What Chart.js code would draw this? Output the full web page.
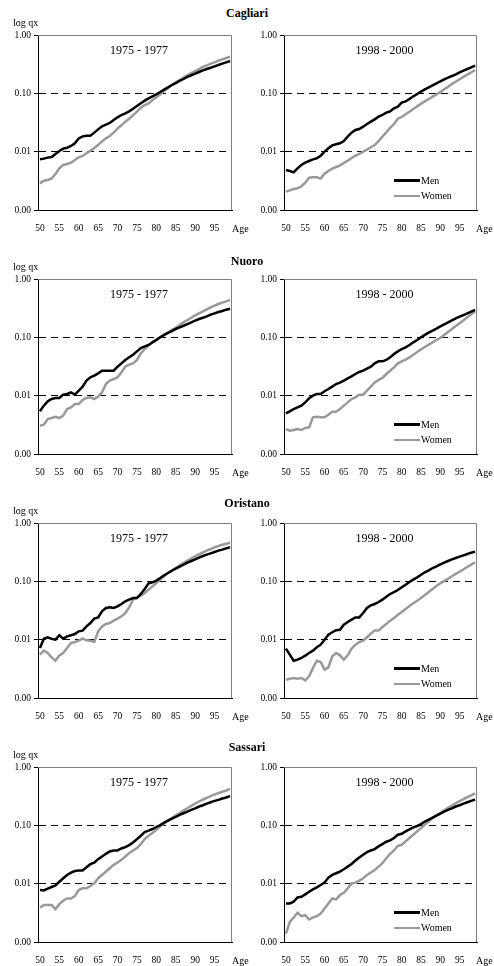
<!DOCTYPE html>
<html><head><meta charset="utf-8">
<script src="https://cdn.jsdelivr.net/npm/chart.js@4.4.1/dist/chart.umd.min.js"></script>
<style>
html,body{margin:0;padding:0;background:#fff;}
body{width:494px;height:966px;position:relative;overflow:hidden;font-family:"Liberation Serif","Times New Roman",serif;color:#000;}
.t{position:absolute;white-space:nowrap;line-height:1;}
canvas{position:absolute;}
.sw{position:absolute;height:2.5px;width:26px;}
</style></head><body>
<script>
// ---------- data ----------
const ages = [50,51,52,53,54,55,56,57,58,59,60,61,62,63,64,65,66,67,68,69,70,71,72,73,74,75,76,77,78,79,80,81,82,83,84,85,86,87,88,89,90,91,92,93,94,95,96,97,98,99];
const xTicks = [50,55,60,65,70,75,80,85,90,95];
const yTicks = [0.001,0.01,0.1,1];
const yTickLabels = ["0.00","0.01","0.10","1.00"];
const regions = ["Cagliari","Nuoro","Oristano","Sassari"];
const periods = ["1975 - 1977","1998 - 2000"];
const seriesNames = ["Men","Women"];
const yTitle = "log qx";
const xTitle = "Age";

const cagliari7577Men = [0.0074,0.0076,0.0079,0.0081,0.0091,0.0103,0.0113,0.0117,0.0125,0.0139,0.0169,0.0183,0.0188,0.0188,0.0212,0.0241,0.0272,0.0290,0.0310,0.0349,0.0388,0.0425,0.0454,0.0491,0.0546,0.0607,0.0674,0.0749,0.0821,0.0889,0.0961,0.1054,0.1156,0.1268,0.139,0.150,0.163,0.176,0.191,0.204,0.217,0.232,0.248,0.261,0.275,0.290,0.306,0.323,0.340,0.358];
const cagliari7577Women = [0.00286,0.00318,0.00327,0.00349,0.00414,0.00518,0.00591,0.00615,0.00648,0.00720,0.00800,0.00843,0.00936,0.0104,0.0116,0.0130,0.0150,0.0169,0.0186,0.0212,0.0248,0.0283,0.0327,0.0368,0.0420,0.0485,0.0568,0.0631,0.0674,0.0769,0.0854,0.0961,0.1096,0.1234,0.139,0.154,0.169,0.186,0.204,0.223,0.241,0.261,0.283,0.302,0.323,0.340,0.363,0.383,0.403,0.425];
const cagliari9800Men = [0.00485,0.00466,0.00442,0.00518,0.00591,0.00648,0.00692,0.00739,0.00769,0.00853,0.0100,0.0114,0.0128,0.0134,0.0139,0.0152,0.0181,0.0212,0.0235,0.0245,0.0268,0.0298,0.0327,0.0358,0.0398,0.0425,0.0466,0.0491,0.0553,0.0591,0.0692,0.0729,0.0800,0.0889,0.0975,0.107,0.117,0.127,0.137,0.148,0.161,0.174,0.186,0.198,0.212,0.229,0.245,0.261,0.279,0.298];
const cagliari9800Women = [0.00206,0.00217,0.00229,0.00235,0.00255,0.00294,0.00358,0.00363,0.00363,0.00345,0.00420,0.00466,0.00511,0.00546,0.00583,0.00639,0.00701,0.00779,0.00853,0.00912,0.0100,0.0108,0.0119,0.0130,0.0152,0.0181,0.0214,0.0255,0.0298,0.0368,0.0393,0.0437,0.0485,0.0538,0.0598,0.0665,0.0729,0.0800,0.0877,0.0961,0.105,0.117,0.130,0.145,0.158,0.174,0.191,0.209,0.229,0.251];
const nuoro7577Men = [0.00539,0.00674,0.00800,0.00877,0.00912,0.00912,0.0104,0.0107,0.0114,0.0104,0.0122,0.0143,0.0181,0.0206,0.0220,0.0241,0.0268,0.0268,0.0268,0.0268,0.0314,0.0358,0.0409,0.0454,0.0504,0.0575,0.0656,0.0701,0.0739,0.0821,0.0900,0.100,0.110,0.119,0.128,0.139,0.148,0.158,0.169,0.181,0.193,0.206,0.217,0.229,0.245,0.258,0.272,0.283,0.298,0.310];
const nuoro7577Women = [0.00306,0.00318,0.00398,0.00414,0.00436,0.00414,0.00454,0.00591,0.00631,0.00720,0.00720,0.00843,0.00912,0.00936,0.00877,0.00962,0.0114,0.0158,0.0181,0.0193,0.0206,0.0251,0.0314,0.0340,0.0358,0.0409,0.0532,0.0631,0.0720,0.0821,0.0912,0.100,0.110,0.120,0.134,0.146,0.163,0.181,0.198,0.217,0.238,0.258,0.279,0.302,0.327,0.349,0.373,0.393,0.414,0.436];
const nuoro9800Men = [0.00498,0.00539,0.00591,0.00631,0.00674,0.00769,0.00900,0.0100,0.0107,0.0107,0.0119,0.0130,0.0143,0.0158,0.0167,0.0181,0.0198,0.0214,0.0235,0.0255,0.0268,0.0290,0.0314,0.0358,0.0388,0.0388,0.0409,0.0454,0.0518,0.0575,0.0631,0.0674,0.0739,0.0821,0.0900,0.100,0.110,0.120,0.130,0.141,0.154,0.167,0.181,0.196,0.212,0.226,0.241,0.258,0.275,0.294];
const nuoro9800Women = [0.00268,0.00251,0.00258,0.00268,0.00258,0.00279,0.00286,0.00425,0.00436,0.00425,0.00425,0.00472,0.00532,0.00532,0.00591,0.00674,0.00769,0.00877,0.00936,0.0104,0.0104,0.0122,0.0143,0.0169,0.0186,0.0201,0.0235,0.0268,0.0306,0.0358,0.0388,0.0414,0.0454,0.0504,0.0561,0.0622,0.0682,0.0749,0.0821,0.0900,0.0975,0.110,0.123,0.139,0.156,0.174,0.196,0.220,0.248,0.275];
const oristano7577Men = [0.00720,0.0104,0.0110,0.0103,0.0100,0.0119,0.0104,0.0114,0.0119,0.0125,0.0139,0.0143,0.0169,0.0193,0.0229,0.0241,0.0306,0.0349,0.0358,0.0349,0.0373,0.0409,0.0454,0.0485,0.0518,0.0518,0.0607,0.0739,0.0924,0.0961,0.103,0.114,0.127,0.139,0.152,0.165,0.178,0.193,0.209,0.223,0.238,0.255,0.272,0.287,0.302,0.318,0.336,0.349,0.368,0.383];
const oristano7577Women = [0.00553,0.00648,0.00591,0.00498,0.00436,0.00539,0.00591,0.00720,0.00877,0.00912,0.00962,0.0104,0.00975,0.00962,0.00912,0.0139,0.0169,0.0186,0.0193,0.0212,0.0229,0.0251,0.0286,0.0358,0.0485,0.0532,0.0568,0.0631,0.0720,0.0821,0.0936,0.107,0.122,0.139,0.154,0.169,0.188,0.206,0.226,0.248,0.268,0.290,0.314,0.336,0.358,0.383,0.403,0.425,0.442,0.460];
const oristano9800Men = [0.00701,0.00553,0.00436,0.00454,0.00485,0.00532,0.00591,0.00648,0.00739,0.00821,0.0100,0.0122,0.0134,0.0145,0.0148,0.0181,0.0201,0.0220,0.0241,0.0241,0.0286,0.0349,0.0388,0.0409,0.0442,0.0485,0.0546,0.0607,0.0656,0.0710,0.0789,0.0877,0.0975,0.107,0.117,0.130,0.143,0.154,0.169,0.181,0.196,0.209,0.223,0.238,0.251,0.265,0.279,0.294,0.310,0.323];
const oristano9800Women = [0.00206,0.00214,0.00220,0.00214,0.00220,0.00201,0.00235,0.00327,0.00436,0.00414,0.00306,0.00336,0.00518,0.00591,0.00539,0.00454,0.00539,0.00701,0.00821,0.00912,0.00962,0.0110,0.0127,0.0143,0.0143,0.0165,0.0186,0.0212,0.0235,0.0268,0.0298,0.0336,0.0378,0.0420,0.0466,0.0518,0.0583,0.0656,0.0739,0.0832,0.0924,0.101,0.111,0.122,0.134,0.146,0.161,0.176,0.193,0.212];
const sassari7577Men = [0.00778,0.00767,0.00820,0.00877,0.00936,0.0108,0.0124,0.0141,0.0155,0.0165,0.0168,0.0168,0.0191,0.0216,0.0230,0.0263,0.0292,0.0325,0.0356,0.0371,0.0371,0.0401,0.0423,0.0458,0.0509,0.0581,0.0664,0.0767,0.0809,0.0865,0.0936,0.101,0.111,0.120,0.130,0.139,0.151,0.161,0.172,0.184,0.196,0.210,0.221,0.236,0.249,0.263,0.273,0.288,0.300,0.316];
const sassari7577Women = [0.00391,0.00429,0.00429,0.00429,0.00366,0.00446,0.00509,0.00558,0.00558,0.00612,0.00778,0.00832,0.00832,0.00912,0.0101,0.0124,0.0141,0.0161,0.0184,0.0210,0.0230,0.0256,0.0292,0.0334,0.0371,0.0407,0.0477,0.0581,0.0664,0.0738,0.0841,0.0961,0.108,0.120,0.134,0.149,0.163,0.179,0.196,0.215,0.236,0.256,0.277,0.296,0.316,0.338,0.356,0.376,0.396,0.423];
const sassari9800Men = [0.00458,0.00458,0.00490,0.00581,0.00597,0.00655,0.00728,0.00798,0.00865,0.00948,0.0104,0.0127,0.0141,0.0151,0.0161,0.0177,0.0196,0.0218,0.0249,0.0281,0.0312,0.0347,0.0371,0.0391,0.0435,0.0477,0.0523,0.0551,0.0605,0.0690,0.0718,0.0788,0.0853,0.0924,0.0975,0.105,0.116,0.125,0.136,0.147,0.159,0.172,0.184,0.196,0.210,0.221,0.236,0.249,0.263,0.277];
const sassari9800Women = [0.00139,0.00221,0.00263,0.00316,0.00277,0.00288,0.00243,0.00263,0.00277,0.00308,0.00376,0.00458,0.00558,0.00537,0.00638,0.00700,0.00832,0.0101,0.0104,0.0113,0.0124,0.0141,0.0155,0.0172,0.0196,0.0224,0.0273,0.0325,0.0371,0.0446,0.0464,0.0530,0.0605,0.0690,0.0788,0.0900,0.103,0.117,0.134,0.149,0.163,0.181,0.199,0.218,0.239,0.259,0.281,0.304,0.325,0.352];

const men = [[cagliari7577Men,cagliari9800Men],[nuoro7577Men,nuoro9800Men],[oristano7577Men,oristano9800Men],[sassari7577Men,sassari9800Men]];
const women = [[cagliari7577Women,cagliari9800Women],[nuoro7577Women,nuoro9800Women],[oristano7577Women,oristano9800Women],[sassari7577Women,sassari9800Women]];

// ---------- layout / style ----------
const FONT = "'Liberation Serif','Times New Roman',serif";
const MEN_COLOR = '#000000';
const WOMEN_COLOR = '#999999';
const rowTop = [35, 279, 523, 767];      // pixel top of each row's plot area
const titleY = [13, 261, 503, 747];
const PLOT_H = 175;
const panelGeo = [ {canvasLeft:0, plotLeft:38, plotRight:232, ageX:232}, {canvasLeft:247, plotLeft:284, plotRight:477, ageX:476} ];
const CW = 247, PAD_TOP = 10, XAXIS_H = 24;

function addText(txt, x, y, size, opts) {
  const d = document.createElement('div');
  d.className = 't';
  d.textContent = txt;
  d.style.fontSize = size + 'px';
  d.style.left = x + 'px';
  d.style.top = y + 'px';
  let tf = 'translateY(-50%)';
  if (opts && opts.center) tf = 'translate(-50%,-50%)';
  d.style.transform = tf;
  if (opts && opts.bold) d.style.fontWeight = 'bold';
  document.body.appendChild(d);
}

const framePlugin = {
  id: 'frame',
  beforeDatasetsDraw(chart) {
    const {ctx, chartArea: a} = chart;
    ctx.save();
    ctx.strokeStyle = '#808080';
    ctx.lineWidth = 1;
    ctx.beginPath();
    ctx.moveTo(a.left, a.top + 0.5);
    ctx.lineTo(a.right - 0.5, a.top + 0.5);
    ctx.lineTo(a.right - 0.5, a.bottom);
    ctx.stroke();
    ctx.restore();
  }
};

function makePanel(r, p) {
  const g = panelGeo[p];
  const cv = document.createElement('canvas');
  const H = PAD_TOP + PLOT_H + XAXIS_H;
  cv.width = CW; cv.height = H;
  cv.style.left = g.canvasLeft + 'px';
  cv.style.top = (rowTop[r] - PAD_TOP) + 'px';
  cv.style.width = CW + 'px'; cv.style.height = H + 'px';
  document.body.appendChild(cv);
  const yW = g.plotLeft - g.canvasLeft;
  const padR = CW - (g.plotRight - g.canvasLeft);
  new Chart(cv, {
    type: 'line',
    data: {
      datasets: [
        {label: seriesNames[0], data: ages.map((a,i)=>({x:a, y:men[r][p][i]})), borderColor: MEN_COLOR, borderWidth: 2.5, pointRadius: 0, tension: 0, fill: false},
        {label: seriesNames[1], data: ages.map((a,i)=>({x:a, y:women[r][p][i]})), borderColor: WOMEN_COLOR, borderWidth: 2.5, pointRadius: 0, tension: 0, fill: false}
      ]
    },
    options: {
      responsive: false, animation: false, devicePixelRatio: 1,
      layout: {padding: {top: PAD_TOP, right: padR, left: 0, bottom: 0}},
      plugins: {legend: {display: false}, tooltip: {enabled: false}, title: {display: false}},
      scales: {
        x: {
          type: 'linear', min: 49.5, max: 99.5,
          afterBuildTicks: s => { s.ticks = xTicks.map(v => ({value: v})); },
          afterFit: s => { s.height = XAXIS_H; },
          grid: {display: false},
          border: {display: true, color: '#000', width: 1},
          ticks: {color: '#000', font: {family: FONT, size: 9.5}, padding: 5, maxRotation: 0, autoSkip: false, callback: v => String(v)}
        },
        y: {
          type: 'logarithmic', min: 0.001, max: 1,
          afterBuildTicks: s => { s.ticks = yTicks.map(v => ({value: v})); },
          afterFit: s => { s.width = yW; },
          grid: {
            color: c => (c.tick && (c.tick.value === 0.01 || c.tick.value === 0.1)) ? '#000' : 'rgba(0,0,0,0)',
            lineWidth: 1, drawTicks: true, tickLength: 4, tickColor: '#000'
          },
          border: {display: true, color: '#000', width: 1, dash: [7, 5]},
          ticks: {color: '#000', font: {family: FONT, size: 9.5}, padding: 3, autoSkip: false, callback: (v, i) => yTickLabels[i]}
        }
      }
    },
    plugins: [framePlugin]
  });

  // panel period label
  addText(periods[p], (g.plotLeft + g.plotRight) / 2 + 4, rowTop[r] + 15, 12, {center: true});
  // x title
  addText(xTitle, g.ageX, rowTop[r] + PLOT_H + 19, 10);
  if (p === 0) addText(yTitle, 13, rowTop[r] - 12, 10);
  if (p === 1) {
    const lx = 394, ly = [rowTop[r] + 145.5, rowTop[r] + 161];
    [MEN_COLOR, WOMEN_COLOR].forEach((c, k) => {
      const s = document.createElement('div');
      s.className = 'sw'; s.style.background = c;
      s.style.left = lx + 'px'; s.style.top = (ly[k] - 1.25) + 'px';
      document.body.appendChild(s);
      addText(seriesNames[k], lx + 27, ly[k], 10);
    });
  }
}

for (let r = 0; r < 4; r++) {
  addText(regions[r], 247, titleY[r], 12, {center: true, bold: true});
  for (let p = 0; p < 2; p++) makePanel(r, p);
}
</script>
</body></html>
